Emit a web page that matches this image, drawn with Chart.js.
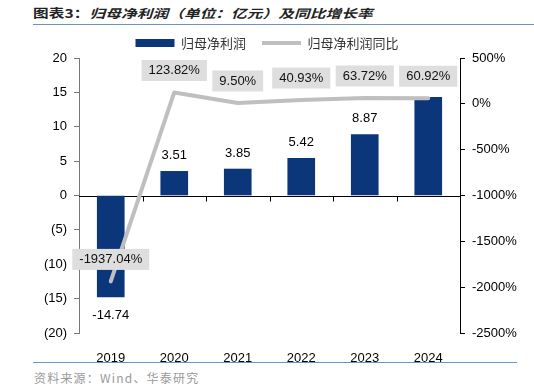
<!DOCTYPE html>
<html>
<head>
<meta charset="utf-8">
<script src="https://cdn.jsdelivr.net/npm/chart.js@4"></script>
<style>
  body { margin: 0; width: 534px; height: 392px; position: relative; background: #fff; overflow: hidden; }
  #title { position: absolute; left: 33px; top: 4px; font: bold 12px "Noto Sans CJK SC"; color: #222;
           letter-spacing: 0.1px; transform: scaleX(1.3); transform-origin: left top; white-space: nowrap; }
  .rule { position: absolute; left: 33px; height: 1px; background: #6b93c6; }
  #src { position: absolute; left: 34px; top: 369px; font: 12px "Noto Sans CJK SC"; color: #9a9a9a; letter-spacing: 1.2px; }
  #wrap { position: absolute; left: 0; top: 0; width: 534px; height: 392px; }
</style>
</head>
<body>
<div id="title">图表3：<span style="font-style:italic">归母净利润（单位：亿元）及同比增长率</span></div>
<div class="rule" style="top:24px;width:501px"></div>
<div class="rule" style="top:362px;width:484px"></div>
<div id="src">资料来源：Wind、华泰研究</div>
<div id="wrap"><canvas id="myChart"></canvas></div>
<script>
const years = ['2019', '2020', '2021', '2022', '2023', '2024'];
const profit = [-14.74, 3.51, 3.85, 5.42, 8.87, 14.27];      // 归母净利润（亿元）
const growth = [-1937.04, 123.82, 9.50, 40.93, 63.72, 60.92];  // 同比（%）
const profitTicks = [-20, 20, 5];
const growthTicks = [-2500, 500, 500];

const navy = '#0b3679';
const gray = '#bfbfbf';
const font = 'Liberation Sans, Arial, sans-serif';

// zero line + small ticks between categories, value labels
const decorate = {
  id: 'decorate',
  beforeDatasetsDraw(chart) {
    const ctx = chart.ctx, x = chart.scales.x, y = chart.scales.y;
    const y0 = Math.round(y.getPixelForValue(0)) + 0.5;
    ctx.save();
    ctx.strokeStyle = '#000';
    ctx.lineWidth = 1;
    ctx.beginPath();
    ctx.moveTo(chart.chartArea.left, y0);
    ctx.lineTo(chart.chartArea.right, y0);
    for (let i = 0; i < years.length - 1; i++) {
      const xb = Math.round((x.getPixelForValue(i) + x.getPixelForValue(i + 1)) / 2) + 0.5;
      ctx.moveTo(xb, y0);
      ctx.lineTo(xb, y0 + 5);
    }
    ctx.stroke();
    ctx.restore();
  },
  afterDatasetsDraw(chart) {
    const ctx = chart.ctx;
    ctx.save();
    ctx.font = '13px ' + font;
    ctx.textAlign = 'center';
    ctx.textBaseline = 'middle';
    // bar values (2024 label sits under the growth box in the original, so skip it)
    chart.getDatasetMeta(0).data.forEach((bar, i) => {
      if (i === years.length - 1) return;
      const v = profit[i];
      ctx.fillStyle = '#000';
      ctx.fillText(v.toFixed(2), bar.x, v >= 0 ? bar.y - 16 : bar.y + 19);
    });
    // growth labels in grey boxes
    chart.getDatasetMeta(1).data.forEach((pt, i) => {
      const txt = growth[i].toFixed(2) + '%';
      const w = ctx.measureText(txt).width + 14;
      const cy = pt.y - 22;
      ctx.fillStyle = '#dedede';
      ctx.fillRect(pt.x - w / 2, cy - 10.5, w, 21);
      ctx.fillStyle = '#111';
      ctx.fillText(txt, pt.x, cy);
    });
    ctx.restore();
  }
};

const ctx = document.getElementById('myChart').getContext('2d');

const myChart = new Chart(ctx, {
  data: {
    labels: years,
    datasets: [{
      type: 'bar',
      label: '归母净利润',
      data: profit,
      backgroundColor: navy,
      yAxisID: 'y',
      barThickness: 27,
      pointStyle: 'rect',
      order: 1
    }, {
      type: 'line',
      label: '归母净利润同比',
      data: growth,
      borderColor: gray,
      backgroundColor: gray,
      borderWidth: 4,
      borderCapStyle: 'round',
      borderJoinStyle: 'round',
      pointRadius: 0,
      pointStyle: 'line',
      tension: 0,
      yAxisID: 'y1',
      order: 0
    }]
  },
  options: {
    responsive: true,
    maintainAspectRatio: false,
    animation: false,
    layout: { padding: { left: 0, right: 0, top: 20.5, bottom: 0 } },
    plugins: {
      tooltip: { enabled: false },
      legend: {
        position: 'top',
        maxHeight: 37.5,
        labels: {
          usePointStyle: true,
          pointStyleWidth: 39,
          boxHeight: 8,
          padding: 16,
          color: '#333',
          font: { family: 'Noto Sans CJK SC', size: 13 },
          sort: (a, b) => a.datasetIndex - b.datasetIndex
        }
      }
    },
    scales: {
      x: {
        grid: { display: false },
        border: { display: false },
        ticks: { color: '#000', font: { family: font, size: 13 }, padding: 10, maxRotation: 0 },
        afterFit: s => { s.height = 59; }
      },
      y: {
        position: 'left',
        min: profitTicks[0], max: profitTicks[1],
        ticks: {
          stepSize: profitTicks[2], color: '#000', padding: 7,
          font: { family: font, size: 13 },
          callback: v => v < 0 ? '(' + (-v) + ')' : String(v)
        },
        grid: { drawOnChartArea: false, drawTicks: true, tickLength: 5, color: '#777' },
        border: { color: '#777' },
        afterFit: s => { s.width = 79; }
      },
      y1: {
        position: 'right',
        min: growthTicks[0], max: growthTicks[1],
        ticks: {
          stepSize: growthTicks[2], color: '#000', padding: 7,
          font: { family: font, size: 13 },
          callback: v => v + '%'
        },
        grid: { drawOnChartArea: false, drawTicks: true, tickLength: 5, color: '#000' },
        border: { color: '#000' },
        afterFit: s => { s.width = 74; }
      }
    }
  },
  plugins: [decorate]
});
</script>
</body>
</html>
